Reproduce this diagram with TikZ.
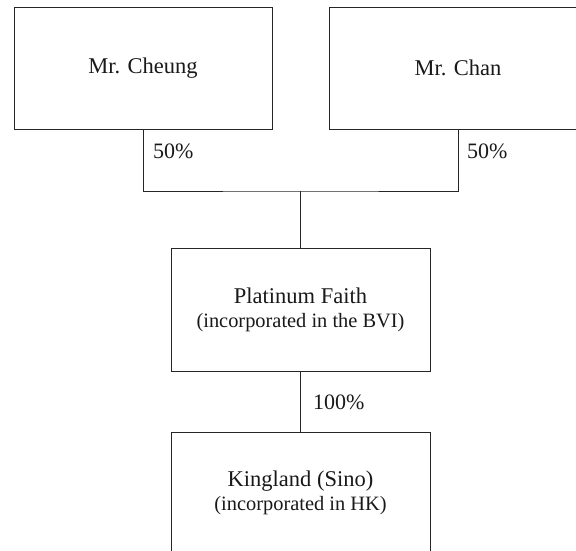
\documentclass[tikz,border=0pt]{standalone}
\usepackage{fontspec}
\setmainfont{Liberation Serif}
\begin{document}
\tikzset{
  entity/.style={draw=black!85, line width=0.9pt, minimum width=258pt, minimum height=122pt,
    inner sep=0pt, align=center, text=black!90, font=\fontsize{22.5}{24}\selectfont},
  link/.style={draw=black!85, line width=0.9pt},
  pct/.style={font=\fontsize{22}{24}\selectfont, inner sep=0pt, anchor=base west, text=black!90},
  subline/.style={}
}
\begin{tikzpicture}[x=1pt,y=-1pt]
\useasboundingbox (0,0) rectangle (576,551);
\clip (0,0) rectangle (576,551);
\node[entity] (cheung) at (143,68) {Mr. Cheung};
\node[entity] (chan) at (458,68) {Mr. Chan};
\node[entity, minimum width=259pt, minimum height=123pt] (plat) at (300.5,309.5)
  {Platinum Faith\\\fontsize{20.4}{24}\selectfont (incorporated in the BVI)};
\node[entity, minimum width=259pt] (king) at (300.5,493)
  {Kingland (Sino)\\\fontsize{20.4}{24}\selectfont (incorporated in HK)};
\coordinate (j) at (300.5,191);
\draw[link] (cheung.south) |- (j) -| (chan.south);
\draw[link] (j) -- (plat.north);
\draw[link] (plat.south) -- (king.north);
\node[pct] (p1) at (153,158) {50\%};
\node[pct] (p2) at (467,158) {50\%};
\node[pct] (p3) at (313,409) {100\%};
\end{tikzpicture}
\end{document}
